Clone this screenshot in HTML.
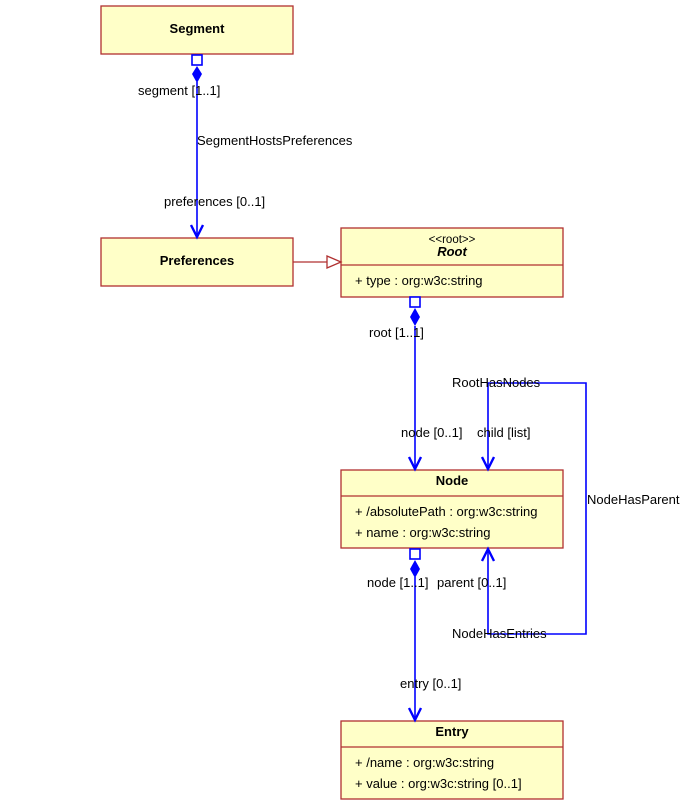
<!DOCTYPE html>
<html><head><style>body{margin:0;background:#fff}svg{display:block}text{font-family:"Liberation Sans",sans-serif;font-size:13px;fill:#000}.b{font-weight:bold}</style></head><body>
<svg width="684" height="805" viewBox="0 0 684 805">
<g fill="#ffffc8" stroke="#b03030" stroke-width="1.3">
<rect x="101" y="6" width="192" height="48"/>
<rect x="101" y="238" width="192" height="48"/>
<rect x="341" y="228" width="222" height="69"/><line x1="341" y1="265" x2="563" y2="265"/>
<rect x="341" y="470" width="222" height="78"/><line x1="341" y1="496" x2="563" y2="496"/>
<rect x="341" y="721" width="222" height="78"/><line x1="341" y1="747" x2="563" y2="747"/>
</g>
<text x="197" y="33" text-anchor="middle" class="b">Segment</text>
<text x="197" y="265" text-anchor="middle" class="b">Preferences</text>
<text x="452" y="243" text-anchor="middle" style="font-size:11.5px">&lt;&lt;root&gt;&gt;</text>
<text x="452" y="256" text-anchor="middle" class="b" font-style="italic">Root</text>
<text x="355" y="285">+ type : org:w3c:string</text>
<text x="452" y="485" text-anchor="middle" class="b">Node</text>
<text x="355" y="516">+ /absolutePath : org:w3c:string</text>
<text x="355" y="537">+ name : org:w3c:string</text>
<text x="452" y="736" text-anchor="middle" class="b">Entry</text>
<text x="355" y="767">+ /name : org:w3c:string</text>
<text x="355" y="788">+ value : org:w3c:string [0..1]</text>
<g stroke="#b03030" stroke-width="1.3" fill="#fff">
<line x1="293" y1="262" x2="327" y2="262"/>
<polygon points="327,256 341,262 327,268"/>
</g>
<g stroke="#0000ff" stroke-width="1.6" fill="none">
<line x1="197" y1="82" x2="197" y2="237"/>
<line x1="415" y1="326" x2="415" y2="469"/>
<polyline points="488,469 488,383 586,383 586,634 488,634 488,549"/>
<line x1="415" y1="577" x2="415" y2="720"/>
<rect x="192" y="55" width="10" height="10" fill="#fff"/>
<rect x="410" y="297" width="10" height="10" fill="#fff"/>
<rect x="410" y="549" width="10" height="10" fill="#fff"/>
</g>
<g stroke="#0000ff" stroke-width="2.4" fill="none">
<polyline points="191,225 197,237 203,225"/>
<polyline points="409,457 415,469 421,457"/>
<polyline points="482,457 488,469 494,457"/>
<polyline points="482,561 488,549 494,561"/>
<polyline points="409,708 415,720 421,708"/>
</g>
<g fill="#0000ff">
<polygon points="197,66 202,74 197,83 192,74"/>
<polygon points="415,308 420,317 415,326 410,317"/>
<polygon points="415,560 420,569 415,578 410,569"/>
</g>
<text x="138" y="95">segment [1..1]</text>
<text x="197" y="145">SegmentHostsPreferences</text>
<text x="164" y="206">preferences [0..1]</text>
<text x="369" y="337">root [1..1]</text>
<text x="452" y="387">RootHasNodes</text>
<text x="401" y="437">node [0..1]</text>
<text x="477" y="437">child [list]</text>
<text x="587" y="504">NodeHasParent</text>
<text x="367" y="587">node [1..1]</text>
<text x="437" y="587">parent [0..1]</text>
<text x="452" y="638">NodeHasEntries</text>
<text x="400" y="688">entry [0..1]</text>
</svg>
</body></html>
